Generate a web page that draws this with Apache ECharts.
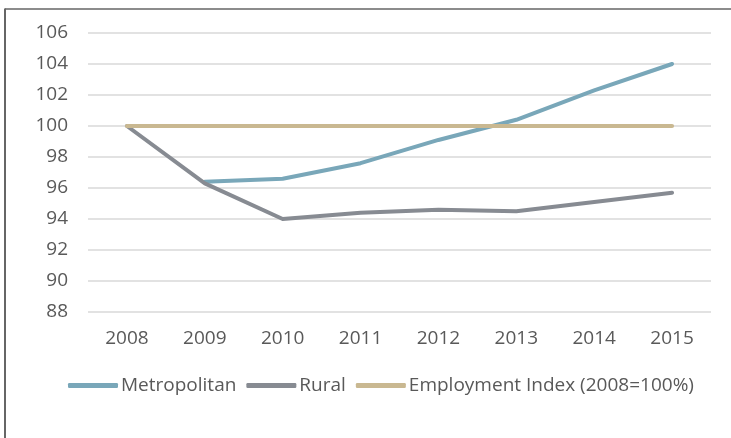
<!DOCTYPE html>
<html>
<head>
<meta charset="utf-8">
<script src="https://cdn.jsdelivr.net/npm/echarts@6/dist/echarts.min.js"></script>
<style>
  html, body { margin: 0; padding: 0; background: #ffffff; }
  #chart { width: 731px; height: 438px; }
</style>
</head>
<body>
<div id="chart"></div>
<script>
// Employment index by region, 2008 = 100
const years = ['2008', '2009', '2010', '2011', '2012', '2013', '2014', '2015'];
const metropolitan = [null, 96.4, 96.6, 97.6, 99.1, 100.4, 102.3, 104.0];
const rural = [100, 96.3, 94.0, 94.4, 94.6, 94.5, 95.1, 95.7];
const employmentIndex = [100, 100, 100, 100, 100, 100, 100, 100];

const seriesNames = ['Metropolitan', 'Rural', 'Employment Index (2008=100%)'];
const seriesColors = ['#79a7b9', '#878b92', '#c9b891'];

const FONT = '"Open Sans", sans-serif';
const TEXT_COLOR = '#595959';

const chart = echarts.init(document.getElementById('chart'), null, { renderer: 'canvas' });

function lineSeries(name, data, color) {
  return {
    name: name,
    type: 'line',
    data: data,
    symbol: 'none',
    connectNulls: false,
    lineStyle: { color: color, width: 4, cap: 'round', join: 'round' },
    itemStyle: { color: color },
    emphasis: { disabled: true }
  };
}

chart.setOption({
  animation: false,
  backgroundColor: '#ffffff',
  grid: { left: 88, right: 20, top: 33, bottom: 126, containLabel: false },
  legend: {
    left: 63,
    top: 371,
    icon: 'roundRect',
    itemWidth: 50,
    itemHeight: 5,
    itemGap: 10,
    data: seriesNames,
    textStyle: { fontFamily: FONT, fontSize: 19, color: TEXT_COLOR, padding: [0, 0, 0, -2] }
  },
  xAxis: {
    type: 'category',
    data: years,
    boundaryGap: true,
    axisLine: { show: false },
    axisTick: { show: false },
    axisLabel: { fontFamily: FONT, fontSize: 19, color: TEXT_COLOR, margin: 17 },
    splitLine: { show: false }
  },
  yAxis: {
    type: 'value',
    min: 88,
    max: 106,
    interval: 2,
    axisLine: { show: false },
    axisTick: { show: false },
    axisLabel: { fontFamily: FONT, fontSize: 19, color: TEXT_COLOR, margin: 20 },
    splitLine: { lineStyle: { color: '#d9d9d9', width: 1.5 } }
  },
  series: [
    lineSeries(seriesNames[0], metropolitan, seriesColors[0]),
    lineSeries(seriesNames[1], rural, seriesColors[1]),
    lineSeries(seriesNames[2], employmentIndex, seriesColors[2])
  ],
  graphic: [
    // frame edges around the figure
    { type: 'line', shape: { x1: 5, y1: 9, x2: 731, y2: 9 }, style: { stroke: '#666666', lineWidth: 1.5 } },
    { type: 'line', shape: { x1: 5, y1: 8.5, x2: 5, y2: 438 }, style: { stroke: '#666666', lineWidth: 2 } }
  ]
});
</script>
</body>
</html>
